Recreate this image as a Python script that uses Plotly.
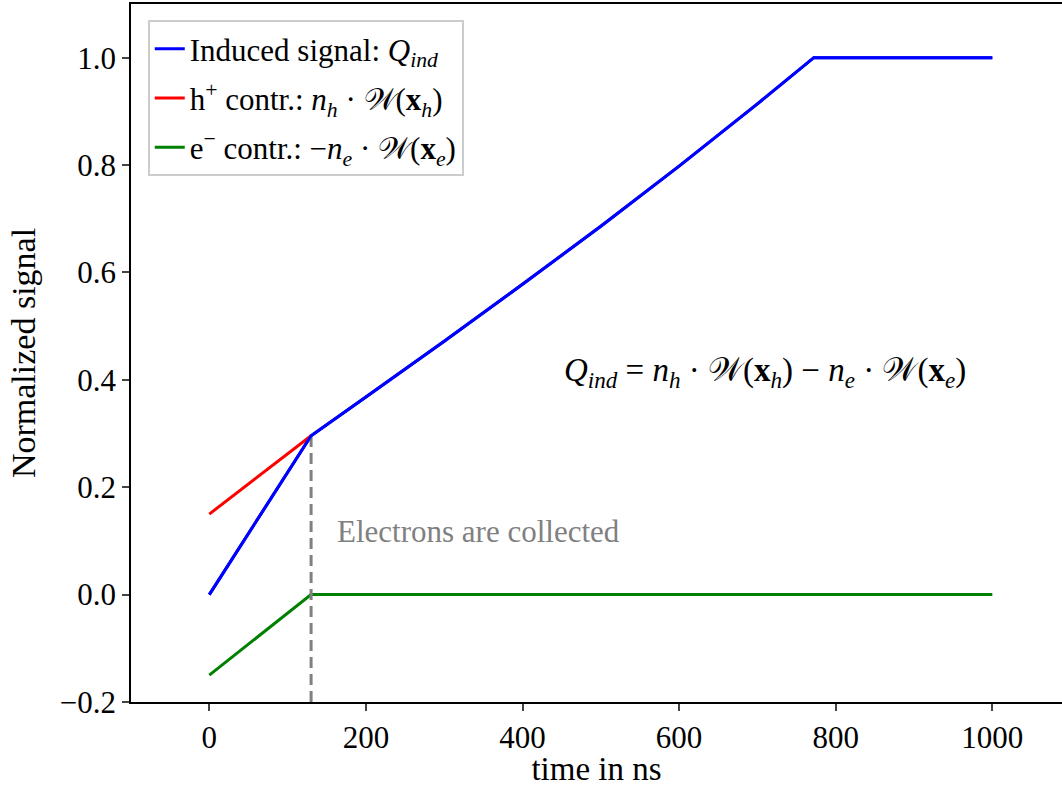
import plotly.graph_objects as go

# ---- data ----
t_induced = [0, 130, 200, 300, 400, 500, 600, 700, 772, 1000]
q_induced = [0.0, 0.296, 0.368, 0.472, 0.578, 0.686, 0.798, 0.914, 1.0, 1.0]

t_holes = [0, 130]
q_holes = [0.15, 0.296]

t_electrons = [0, 130, 1000]
q_electrons = [-0.15, 0.0, 0.0]

t_collect = 130
collect_span = [-0.2, 0.296]

x_ticks = [0, 200, 400, 600, 800, 1000]
y_ticks = [-0.2, 0.0, 0.2, 0.4, 0.6, 0.8, 1.0]

FONT = "Liberation Serif"
FS = 31

fig = go.Figure()
fig.add_trace(go.Scatter(x=t_induced, y=q_induced, mode="lines",
                         line=dict(color="#0000ff", width=3), legendgroup="a",
                         name="Induced signal: <i>Q</i><sub><i>ind</i></sub>"))
fig.add_trace(go.Scatter(x=t_holes, y=q_holes, mode="lines",
                         line=dict(color="#ff0000", width=3), legendgroup="b",
                         name="h<sup>+</sup> contr.: <i>n</i><sub><i>h</i></sub> · 𝒲(<b>x</b><sub><i>h</i></sub>)"))
fig.add_trace(go.Scatter(x=t_electrons, y=q_electrons, mode="lines",
                         line=dict(color="#008000", width=3), legendgroup="c",
                         name="e<sup>−</sup> contr.: −<i>n</i><sub><i>e</i></sub> · 𝒲(<b>x</b><sub><i>e</i></sub>)"))
fig.add_trace(go.Scatter(x=[t_collect, t_collect], y=collect_span, mode="lines",
                         line=dict(color="#808080", width=3, dash="11px,6px"),
                         showlegend=False, hoverinfo="skip"))
# redraw blue on top of dashed line
fig.add_trace(go.Scatter(x=t_induced, y=q_induced, mode="lines",
                         line=dict(color="#0000ff", width=3),
                         showlegend=False, hoverinfo="skip"))

fig.add_annotation(x=710, y=0.413, xref="x", yref="y", showarrow=False,
                   text="<i>Q</i><sub><i>ind</i></sub> = <i>n</i><sub><i>h</i></sub> · 𝒲(<b>x</b><sub><i>h</i></sub>) − <i>n</i><sub><i>e</i></sub> · 𝒲(<b>x</b><sub><i>e</i></sub>)",
                   font=dict(family=FONT, size=33, color="black"))
fig.add_annotation(x=161, y=0.117, xref="x", yref="y", showarrow=False,
                   xanchor="left", text="Electrons are collected",
                   font=dict(family=FONT, size=FS, color="#808080"))

fig.update_layout(
    width=1062, height=787,
    margin=dict(l=131, r=0, t=4, b=85),
    paper_bgcolor="white", plot_bgcolor="white",
    font=dict(family=FONT, size=FS, color="black"),
    showlegend=True,
    legend=dict(x=0.018, y=0.977, xanchor="left", yanchor="top",
                bgcolor="rgba(255,255,255,0.8)", bordercolor="#cccccc", borderwidth=2,
                tracegroupgap=6,
                font=dict(family=FONT, size=FS, color="black")),
    xaxis=dict(range=[-100, 1089], tickvals=x_ticks, ticks="outside", ticklen=7, tickwidth=1.5,
               showline=True, linecolor="black", linewidth=1.5, mirror=True,
               showgrid=False, zeroline=False,
               tickfont=dict(family=FONT, size=FS, color="black"),
               title=dict(text="time in ns", standoff=2,
                          font=dict(family=FONT, size=33, color="black"))),
    yaxis=dict(range=[-0.2, 1.1], tickvals=y_ticks, tickformat=".1f", ticks="outside",
               ticklen=7, tickwidth=1.5, showline=True, linecolor="black", linewidth=1.5,
               showgrid=False, zeroline=False,
               tickfont=dict(family=FONT, size=FS, color="black"),
               title=dict(text="Normalized signal", standoff=14,
                          font=dict(family=FONT, size=34, color="black"))),
)

fig.write_html("out.html")
